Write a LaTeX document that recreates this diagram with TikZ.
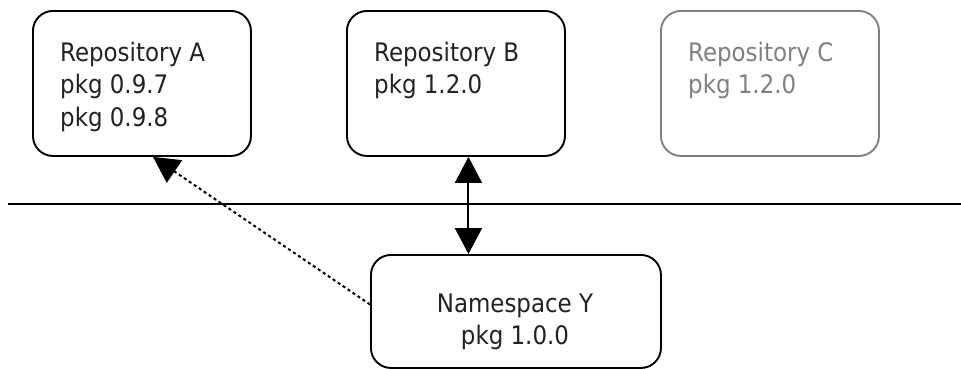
\documentclass[tikz,border=0pt]{standalone}
\usepackage{fontspec}
\setmainfont{DejaVu Sans Condensed}
\usetikzlibrary{arrows.meta,calc}
\definecolor{ink}{HTML}{222222}
\definecolor{faded}{HTML}{808080}
\tikzset{
  box/.style={draw, line width=1.9pt, rounded corners=20pt, fill=white,
    anchor=north west, inner sep=0pt, minimum width=218pt, minimum height=145pt},
  label text/.style={anchor=base west, inner sep=0pt, text=ink,
    font=\fontsize{25.5}{32.5}\selectfont},
  bigtip/.tip={Triangle[length=26pt, width=27pt]},
  link/.style={line width=2pt},
  hint/.style={line width=2pt, dash pattern=on 3pt off 3pt}
}
\begin{document}
\begin{tikzpicture}[x=1pt, y=-1pt]
  \useasboundingbox (0,0) rectangle (961,368);

  % separator between repositories and namespaces
  \coordinate (sepL) at (8,204);
  \coordinate (sepR) at (961,204);
  \draw[line width=1.9pt] (sepL) -- (sepR);

  % repositories
  \node[box] (A) at (32,10) {};
  \node[label text] (Atxt) at (60,61)
    {\parbox[t]{180pt}{\baselineskip=32.5pt Repository A\\pkg 0.9.7\\pkg 0.9.8}};

  \node[box] (B) at (346,10) {};
  \node[label text] (Btxt) at (374,61)
    {\parbox[t]{180pt}{\baselineskip=32.5pt Repository B\\pkg 1.2.0}};

  \node[box, draw=faded] (C) at (660,10) {};
  \node[label text, text=faded] (Ctxt) at (688,61)
    {\parbox[t]{180pt}{\baselineskip=32.5pt Repository C\\pkg 1.2.0}};

  % namespace
  \node[box, minimum width=290pt, minimum height=113pt] (ns) at (370,254) {};
  \node[label text, anchor=base] (nstxt) at (515,312)
    {\parbox[t]{260pt}{\centering\baselineskip=32.5pt Namespace Y\\pkg 1.0.0}};

  % connectors
  \coordinate (bport) at ([xshift=12.5pt]B.south);
  \draw[link, bigtip-bigtip] (bport) -- (bport |- ns.north);

  \coordinate (aport) at ([xshift=121pt]A.south west);
  \coordinate (nsport) at ([yshift=7pt]ns.west);
  \draw[hint, -bigtip] (nsport) -- (aport);
\end{tikzpicture}
\end{document}
